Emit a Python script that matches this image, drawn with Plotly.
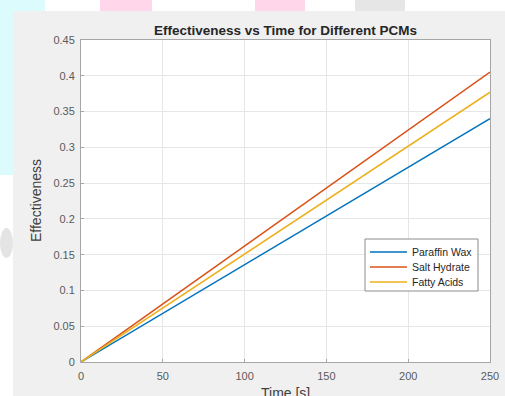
import plotly.graph_objects as go

# Effectiveness of three phase-change materials over time
time_s = [0, 250]
paraffin_wax = [0.0, 0.340]
salt_hydrate = [0.0, 0.405]
fatty_acids = [0.0, 0.377]

series_names = ["Paraffin Wax", "Salt Hydrate", "Fatty Acids"]
series_values = [paraffin_wax, salt_hydrate, fatty_acids]
series_colors = ["#0072BD", "#D95319", "#EDB120"]
x_ticks = [0, 50, 100, 150, 200, 250]
y_ticks = [0, 0.05, 0.1, 0.15, 0.2, 0.25, 0.3, 0.35, 0.4, 0.45]

W, H = 505, 396
L, R, T, B = 81, 15, 40, 34
PW, PH = W - L - R, H - T - B
FONT = "Liberation Sans, Arial, Helvetica, sans-serif"


def px(x):
    return (x - L) / PW


def py(y):
    return (H - B - y) / PH


fig = go.Figure()
for name, vals, col in zip(series_names, series_values, series_colors):
    fig.add_trace(go.Scatter(x=time_s, y=vals, mode="lines", name=name,
                             line=dict(color=col, width=1.5), showlegend=False))


def rect(x0, y0, x1, y1, color, line=None, layer="below"):
    return dict(type="rect", xref="paper", yref="paper", layer=layer,
                x0=px(x0), x1=px(x1), y0=py(y1), y1=py(y0),
                fillcolor=color, line=line or dict(width=0))


shapes = [
    # white page strip above and left of the figure window
    rect(0, 0, W, 11, "#ffffff"),
    rect(0, 0, 13, H, "#ffffff"),
    # page decorations
    rect(0, 0, 45, 11, "#dcfbfd"),
    rect(0, 0, 13, 175, "#dcfbfd"),
    rect(100, 0, 152, 11, "#ffd6ea"),
    rect(255, 0, 305, 11, "#ffd6ea"),
    rect(355, 0, 405, 11, "#e6e6e6"),
    dict(type="circle", xref="paper", yref="paper", layer="below",
         x0=px(0), x1=px(13), y0=py(258), y1=py(228),
         fillcolor="#e4e4e4", line=dict(width=0)),
    # axes area
    rect(L, T, W - R, H - B, "#ffffff"),
]

# legend box with line samples and labels
leg_x0, leg_x1, leg_y0, leg_y1 = 365, 478, 239, 291
shapes.append(rect(leg_x0, leg_y0, leg_x1, leg_y1, "#ffffff",
                   line=dict(color="#8c8c8c", width=1), layer="above"))
annotations = []
for i, (name, col) in enumerate(zip(series_names, series_colors)):
    yy = 252 + 15 * i
    shapes.append(dict(type="line", xref="paper", yref="paper", layer="above",
                       x0=px(370), x1=px(407), y0=py(yy), y1=py(yy),
                       line=dict(color=col, width=1.5)))
    annotations.append(dict(x=px(410), y=py(yy), xref="paper", yref="paper",
                            text=name, showarrow=False, xanchor="left", yanchor="middle",
                            font=dict(family=FONT, size=10.5, color="#262626")))

# axis titles
annotations.append(dict(x=0.5, y=py(393), xref="paper", yref="paper",
                        text="Time [s]", showarrow=False, xanchor="center", yanchor="middle",
                        font=dict(family=FONT, size=14, color="#404040")))
annotations.append(dict(x=px(36), y=py(201), xref="paper", yref="paper",
                        text="Effectiveness", showarrow=False, textangle=-90,
                        xanchor="center", yanchor="middle",
                        font=dict(family=FONT, size=14, color="#404040")))

axis_common = dict(showgrid=True, gridcolor="#e6e6e6", gridwidth=1,
                   showline=True, linecolor="#a6a6a6", linewidth=1, mirror=True,
                   ticks="inside", ticklen=3, tickcolor="#a6a6a6",
                   zeroline=False, automargin=False,
                   tickfont=dict(family=FONT, size=11, color="#5a5a5a"))

fig.update_layout(
    width=W, height=H,
    margin=dict(l=L, r=R, t=T, b=B, pad=0, autoexpand=False),
    paper_bgcolor="#f0f0f0",
    plot_bgcolor="rgba(0,0,0,0)",
    shapes=shapes,
    annotations=annotations,
    title=dict(text="<b>Effectiveness vs Time for Different PCMs</b>",
               xref="paper", x=0.5, xanchor="center",
               yref="container", y=1 - 30 / H, yanchor="middle",
               font=dict(family=FONT, size=13.5, color="#262626")),
    xaxis=dict(range=[0, 250], tickvals=x_ticks, ticktext=[str(v) for v in x_ticks],
               ticklabelstandoff=4, **axis_common),
    yaxis=dict(range=[0, 0.45], tickvals=y_ticks, ticktext=[f"{v:g}" for v in y_ticks],
               ticklabelstandoff=3, **axis_common),
    showlegend=False,
)

fig.write_html(
    "out.html",
    post_script="document.documentElement.style.overflow='hidden';"
                "document.body.style.margin='0';document.body.style.overflow='hidden';",
)
